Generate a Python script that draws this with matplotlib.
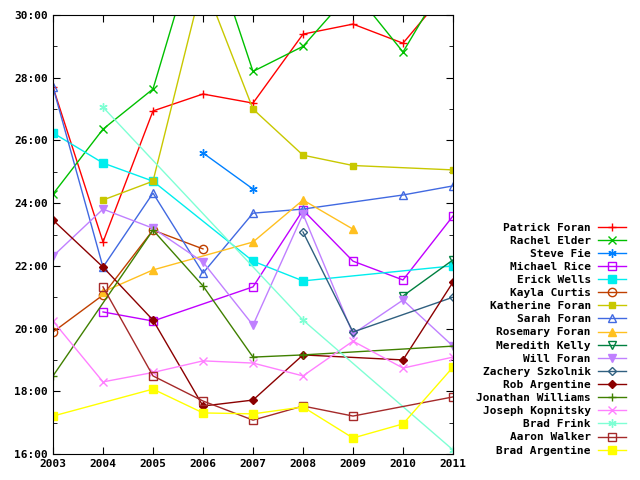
import numpy as np
import matplotlib
matplotlib.use('Agg')
import matplotlib.pyplot as plt
from matplotlib.ticker import MultipleLocator, FuncFormatter

years = list(range(2003, 2012))
nan = np.nan

# race times in minutes, one list per runner (nan = no result)
patrick_foran = [27.7, 22.76, 26.94, 27.48, 27.19, 29.39, 29.71, 29.1, 31.0]
rachel_elder = [24.29, 26.36, 27.64, 33.0, 28.2, 29.0, 30.8, 28.82, 31.5]
steve_fie = [nan, nan, nan, 25.6, 24.45, nan, nan, nan, nan]
michael_rice = [nan, 20.53, 20.24, nan, 21.33, 23.78, 22.15, 21.55, 23.59]
erick_wells = [26.24, 25.28, 24.7, nan, 22.15, 21.52, nan, nan, 22.0]
kayla_curtis = [19.89, 21.07, 23.14, 22.54, nan, nan, nan, nan, nan]
katherine_foran = [nan, 24.1, 24.7, 31.1, 27.0, 25.53, 25.2, nan, 25.06]
sarah_foran = [27.7, 21.96, 24.32, 21.77, 23.68, 23.81, nan, 24.26, 24.55]
rosemary_foran = [nan, 21.17, 21.87, nan, 22.76, 24.1, 23.17, nan, nan]
meredith_kelly = [nan, nan, nan, nan, nan, nan, nan, 21.04, 22.19]
will_foran = [22.31, 23.81, 23.2, 22.12, 20.11, 23.65, 19.83, 20.91, 19.44]
zachery_szkolnik = [nan, nan, nan, nan, nan, 23.08, 19.89, nan, 21.0]
rob_argentine = [23.46, 21.96, 20.27, 17.53, 17.72, 19.16, nan, 19.0, 21.48]
jonathan_williams = [18.49, nan, 23.14, 21.36, 19.09, 19.16, nan, nan, 19.44]
joseph_kopnitsky = [20.24, 18.3, 18.6, 18.97, 18.9, 18.49, 19.6, 18.74, 19.09]
brad_frink = [nan, 27.06, nan, nan, nan, 20.27, nan, nan, 16.13]
aaron_walker = [nan, 21.33, 18.49, 17.69, 17.08, 17.53, 17.21, nan, 17.82]
brad_argentine = [17.21, nan, 18.07, 17.31, 17.28, 17.5, 16.51, 16.96, 18.77]

runners = [
    ('Patrick Foran', patrick_foran, '#ff0000', '+', True),
    ('Rachel Elder', rachel_elder, '#00c000', 'x', True),
    ('Steve Fie', steve_fie, '#0080ff', (6, 2, 0), True),
    ('Michael Rice', michael_rice, '#c000ff', 's', False),
    ('Erick Wells', erick_wells, '#00eeee', 's', True),
    ('Kayla Curtis', kayla_curtis, '#c04000', 'o', False),
    ('Katherine Foran', katherine_foran, '#c8c800', 's', True),
    ('Sarah Foran', sarah_foran, '#4169e1', '^', False),
    ('Rosemary Foran', rosemary_foran, '#ffc020', '^', True),
    ('Meredith Kelly', meredith_kelly, '#008040', 'v', False),
    ('Will Foran', will_foran, '#c080ff', 'v', True),
    ('Zachery Szkolnik', zachery_szkolnik, '#306080', 'D', False),
    ('Rob Argentine', rob_argentine, '#8b0000', 'D', True),
    ('Jonathan Williams', jonathan_williams, '#408000', '+', True),
    ('Joseph Kopnitsky', joseph_kopnitsky, '#ff80ff', 'x', True),
    ('Brad Frink', brad_frink, '#7fffd4', (6, 2, 0), True),
    ('Aaron Walker', aaron_walker, '#a52a2a', 's', False),
    ('Brad Argentine', brad_argentine, '#ffff00', 's', True),
]

fig = plt.figure(figsize=(6.4, 4.8), dpi=100)
ax = fig.add_axes([53/640, 26/480, 400/640, 439/480])

for name, vals, col, mk, filled in runners:
    v = np.array(vals, dtype=float)
    ok = ~np.isnan(v)
    x = np.array(years)[ok]
    size = 6
    if name == 'Katherine Foran':
        size = 4
    if mk == 'D':
        size = 4
    ax.plot(x, v[ok], color=col, lw=1, marker=mk, ms=size,
            mfc=col if filled else 'none', mec=col, mew=1, label=name)

ax.set_xlim(2003, 2011)
ax.set_ylim(16, 30)
ax.xaxis.set_major_locator(MultipleLocator(1))
ax.yaxis.set_major_locator(MultipleLocator(2))
ax.yaxis.set_minor_locator(MultipleLocator(1))
ax.yaxis.set_major_formatter(FuncFormatter(lambda v, p: '%d:00' % v))
ax.tick_params(which='both', direction='in', top=True, right=True, length=5)
ax.tick_params(which='minor', length=3)
for lab in ax.get_xticklabels() + ax.get_yticklabels():
    lab.set_fontfamily('DejaVu Sans Mono')
    lab.set_fontweight('bold')
    lab.set_fontsize(8)

fig.legend(loc='upper right', bbox_to_anchor=(632/640, 1 - 217/480),
           frameon=False, markerfirst=False, handlelength=2.6,
           labelspacing=0.28, borderpad=0, handletextpad=0.6,
           prop={'family': 'DejaVu Sans Mono', 'weight': 'bold', 'size': 8})

fig.savefig('out.png', dpi=100)
